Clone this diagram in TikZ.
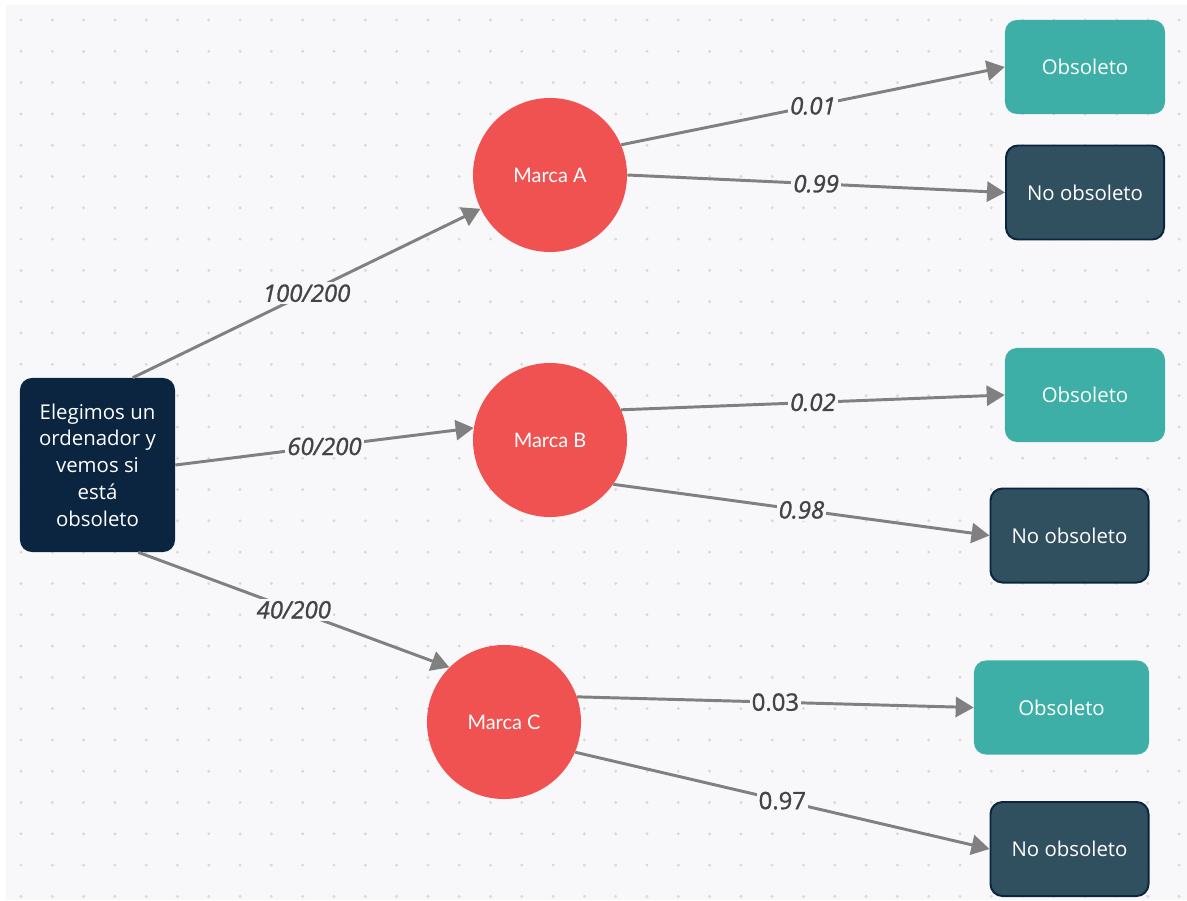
\documentclass[tikz,border=0pt]{standalone}
\usepackage{fontspec}
\setmainfont{Open Sans}
\newfontfamily\latofont{Lato}
\newfontfamily\etiqfont[FakeBold=1.2]{Open Sans}
\usetikzlibrary{arrows.meta}

\definecolor{fondo}{HTML}{F8F8FA}
\definecolor{punto}{HTML}{D8D8DD}
\definecolor{raiz}{HTML}{0B2540}
\definecolor{marca}{HTML}{F05252}
\definecolor{obs}{HTML}{3DAFA6}
\definecolor{noobs}{HTML}{30505F}
\definecolor{flecha}{HTML}{808080}
\definecolor{etiq}{HTML}{444444}

\tikzset{
  caja/.style={rectangle, rounded corners=0.3cm, text=white,
    font=\fontsize{14.5}{19}\selectfont, align=center},
  cajaobs/.style={caja, fill=obs, minimum width=4cm, minimum height=2.35cm},
  cajanoobs/.style={caja, fill=noobs, draw=raiz, line width=1.4pt,
    minimum width=3.95cm, minimum height=2.35cm},
  marcanodo/.style={circle, fill=marca, minimum size=3.85cm, inner sep=0pt,
    text=white, font=\latofont\fontsize{14.2}{16}\selectfont},
  arista/.style={draw=flecha, line width=2.1pt,
    -{Triangle[length=0.45cm, width=0.5cm]}},
  etiqueta/.style={fill=fondo, inner sep=1.5pt, text=etiq,
    font=\etiqfont\fontsize{17}{18}\selectfont\itshape}
}

\begin{document}
\begin{tikzpicture}[x=0.025cm, y=-0.025cm]
  \useasboundingbox (0,0) rectangle (1187,900);
  \fill [fondo] (6,5) rectangle (1187,900);
  \foreach \i in {0,...,37}{
    \foreach \j in {0,...,28}{
      \fill [punto] (21 + 31.3*\i, 20 + 31.3*\j) circle [radius=0.04cm];
    }
  }

  \node [caja, fill=raiz, minimum width=3.875cm, minimum height=4.35cm] (raiz) at (97.5,465)
    {Elegimos un\\ordenador y\\vemos si\\está\\obsoleto};

  \node [marcanodo] (mA) at (550,175) {Marca A};
  \node [marcanodo] (mB) at (550,440) {Marca B};
  \node [marcanodo] (mC) at (504,722) {Marca C};

  \node [cajaobs] (oA) at (1085,67) {Obsoleto};
  \node [cajanoobs] (nA) at (1085,192.5) {No obsoleto};
  \node [cajaobs] (oB) at (1085,395) {Obsoleto};
  \node [cajanoobs] (nB) at (1069.5,535.5) {No obsoleto};
  \node [cajaobs, minimum width=4.375cm] (oC) at (1061.5,707.5) {Obsoleto};
  \node [cajanoobs] (nC) at (1069.5,849) {No obsoleto};

  \draw [arista] (raiz.68) -- node [etiqueta] {100/200} (mA);
  \draw [arista] (raiz.east) -- node [etiqueta] {60/200} (mB.171);
  \draw [arista] (raiz.-65) -- node [etiqueta] {40/200} (mC.135);

  \draw [arista] (mA.23) -- node [etiqueta] {0.01} (oA.west);
  \draw [arista] (mA.east) -- node [etiqueta] {0.99} (nA.west);
  \draw [arista] (mB.23) -- node [etiqueta] {0.02} (oB.west);
  \draw [arista] (mB.-35) -- node [etiqueta] {0.98} (nB.west);
  \draw [arista] (mC.19) -- node [etiqueta, font=\etiqfont\fontsize{17}{18}\selectfont] {0.03} (oC.west);
  \draw [arista] (mC.-23) -- node [etiqueta, font=\etiqfont\fontsize{17}{18}\selectfont] {0.97} (nC.west);
\end{tikzpicture}
\end{document}
